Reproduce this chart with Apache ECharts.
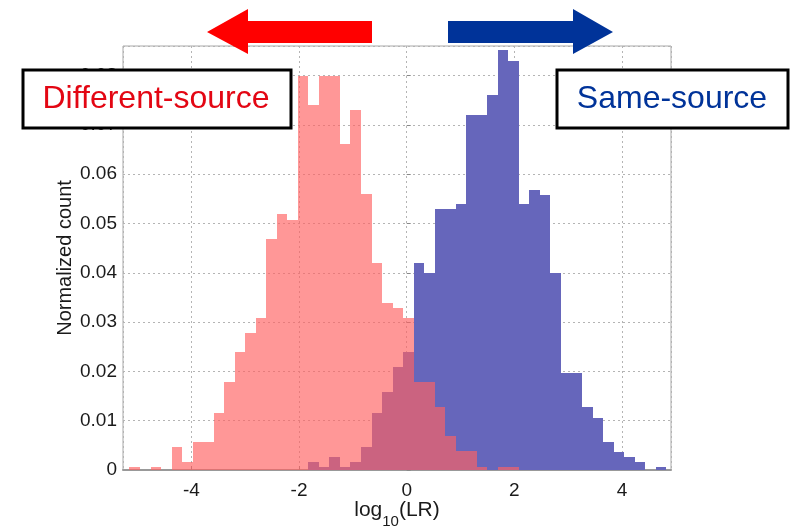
<!DOCTYPE html>
<html>
<head>
<meta charset="utf-8">
<script src="https://cdn.jsdelivr.net/npm/echarts@6/dist/echarts.min.js"></script>
<style>
html,body{margin:0;padding:0;background:#fff;}
#chart{width:791px;height:529px;}
</style>
</head>
<body>
<div id="chart"></div>
<script>
// Histogram bins (shared edges)
const binStart = -5.15;
const binWidth = 0.1955;
// Normalized counts, different-source comparisons (red)
const diffCounts = [
  0.0007, 0, 0.0007, 0, 0.0047, 0.0017, 0.0056, 0.0056, 0.0116, 0.0179,
  0.0239, 0.0277, 0.0309, 0.0469, 0.0519, 0.0508, 0.0800, 0.0740, 0.0800, 0.0800,
  0.0661, 0.0730, 0.0559, 0.0419, 0.0338, 0.0329, 0.0309, 0.0179, 0.0179, 0.0128,
  0.0068, 0.0039, 0.0039, 0.0007, 0, 0.0007, 0.0007, 0, 0, 0,
  0, 0, 0, 0, 0, 0, 0, 0, 0, 0, 0
];
// Normalized counts, same-source comparisons (blue)
const sameCounts = [
  0, 0, 0, 0, 0, 0, 0, 0, 0, 0,
  0, 0, 0, 0, 0, 0, 0, 0.0017, 0.0007, 0.0027,
  0.0007, 0.0017, 0.0047, 0.0116, 0.0159, 0.0208, 0.0239, 0.0419, 0.0399, 0.0529,
  0.0529, 0.0540, 0.0720, 0.0720, 0.0761, 0.0851, 0.0830, 0.0540, 0.0568, 0.0558,
  0.0399, 0.0197, 0.0197, 0.0127, 0.0106, 0.0056, 0.0037, 0.0027, 0.0017, 0, 0.0007
];
const xRange = [-5.27, 4.91];
const yRange = [0, 0.086];
const yTickStep = 0.01;

function toBins(counts) {
  return counts.map((c, i) => [binStart + i * binWidth, binStart + (i + 1) * binWidth, c]);
}
function makeRender(color) {
  return function (params, api) {
    const x0 = api.value(0), x1 = api.value(1), y = api.value(2);
    if (!y) return null;
    const p0 = api.coord([x0, y]);
    const p1 = api.coord([x1, 0]);
    const L = Math.round(p0[0]), R = Math.round(p1[0]);
    const T = Math.round(p0[1]), B = Math.round(p1[1]);
    return {
      type: 'rect',
      shape: { x: L, y: T, width: R - L, height: B - T },
      style: { fill: color }
    };
  };
}

const FONT = '"Liberation Sans", Arial, sans-serif';
const chart = echarts.init(document.getElementById('chart'), null, { renderer: 'canvas' });
const gridLine = { show: true, lineStyle: { color: '#b4b4b4', type: [2, 3], width: 1 } };

chart.setOption({
  animation: false,
  backgroundColor: '#ffffff',
  grid: { left: 123, right: 120, top: 46, bottom: 59, show: true, borderColor: '#a8a8a8', borderWidth: 1,
          backgroundColor: 'transparent', containLabel: false, outerBoundsMode: 'none' },
  xAxis: {
    type: 'value', min: xRange[0], max: xRange[1], splitNumber: 5,
    axisLine: { show: true, lineStyle: { color: '#999', width: 2 } },
    axisTick: { show: true, inside: true, length: 4, lineStyle: { color: '#888' } },
    axisLabel: { fontFamily: FONT, fontSize: 19, color: '#1a1a1a', margin: 11, showMinLabel: false, showMaxLabel: false },
    splitLine: gridLine,
    name: '{a|log}{b|10}{a|(LR)}',
    nameLocation: 'middle', nameGap: 30, nameMoveOverlap: false,
    nameTextStyle: {
      rich: {
        a: { fontFamily: FONT, fontSize: 21, color: '#1a1a1a', verticalAlign: 'bottom', padding: [0, 0, 8, 0] },
        b: { fontFamily: FONT, fontSize: 15, color: '#1a1a1a', verticalAlign: 'bottom' }
      }
    }
  },
  yAxis: {
    type: 'value', min: yRange[0], max: yRange[1], interval: yTickStep,
    axisLine: { show: false },
    axisTick: { show: true, inside: true, length: 4, lineStyle: { color: '#888' } },
    axisLabel: {
      fontFamily: FONT, fontSize: 19, color: '#1a1a1a', margin: 6, showMaxLabel: false,
      formatter: v => (v === 0 ? '0' : v.toFixed(2))
    },
    splitLine: gridLine,
    name: 'Normalized count', nameLocation: 'middle', nameRotate: 90, nameGap: 48, nameMoveOverlap: false,
    nameTextStyle: { fontFamily: FONT, fontSize: 20, color: '#1a1a1a' }
  },
  series: [
    { type: 'custom', name: 'Same-source', data: toBins(sameCounts), encode: { x: [0, 1], y: 2 },
      renderItem: makeRender('#6666bb'), z: 2 },
    { type: 'custom', name: 'Different-source', data: toBins(diffCounts), encode: { x: [0, 1], y: 2 },
      renderItem: makeRender('rgba(255,97,97,0.66)'), z: 3 }
  ],
  graphic: [
    { type: 'polygon', z: 100, shape: { points: [[372,21],[248,21],[248,9],[207,32],[248,54],[248,43],[372,43]] }, style: { fill: '#ff0000' } },
    { type: 'polygon', z: 100, shape: { points: [[448,21],[573,21],[573,9],[613,32],[573,54],[573,43],[448,43]] }, style: { fill: '#003399' } },
    { type: 'rect', z: 100, shape: { x: 23, y: 70, width: 268, height: 58 }, style: { fill: '#fff', stroke: '#000', lineWidth: 3 } },
    { type: 'text', z: 101, x: 156, y: 99, style: { text: 'Different-source', fill: '#e30613', font: '32px ' + FONT, textAlign: 'center', textVerticalAlign: 'middle' } },
    { type: 'rect', z: 100, shape: { x: 557, y: 70, width: 231, height: 58 }, style: { fill: '#fff', stroke: '#000', lineWidth: 3 } },
    { type: 'text', z: 101, x: 672, y: 99, style: { text: 'Same-source', fill: '#003399', font: '32px ' + FONT, textAlign: 'center', textVerticalAlign: 'middle' } }
  ]
});
</script>
</body>
</html>
